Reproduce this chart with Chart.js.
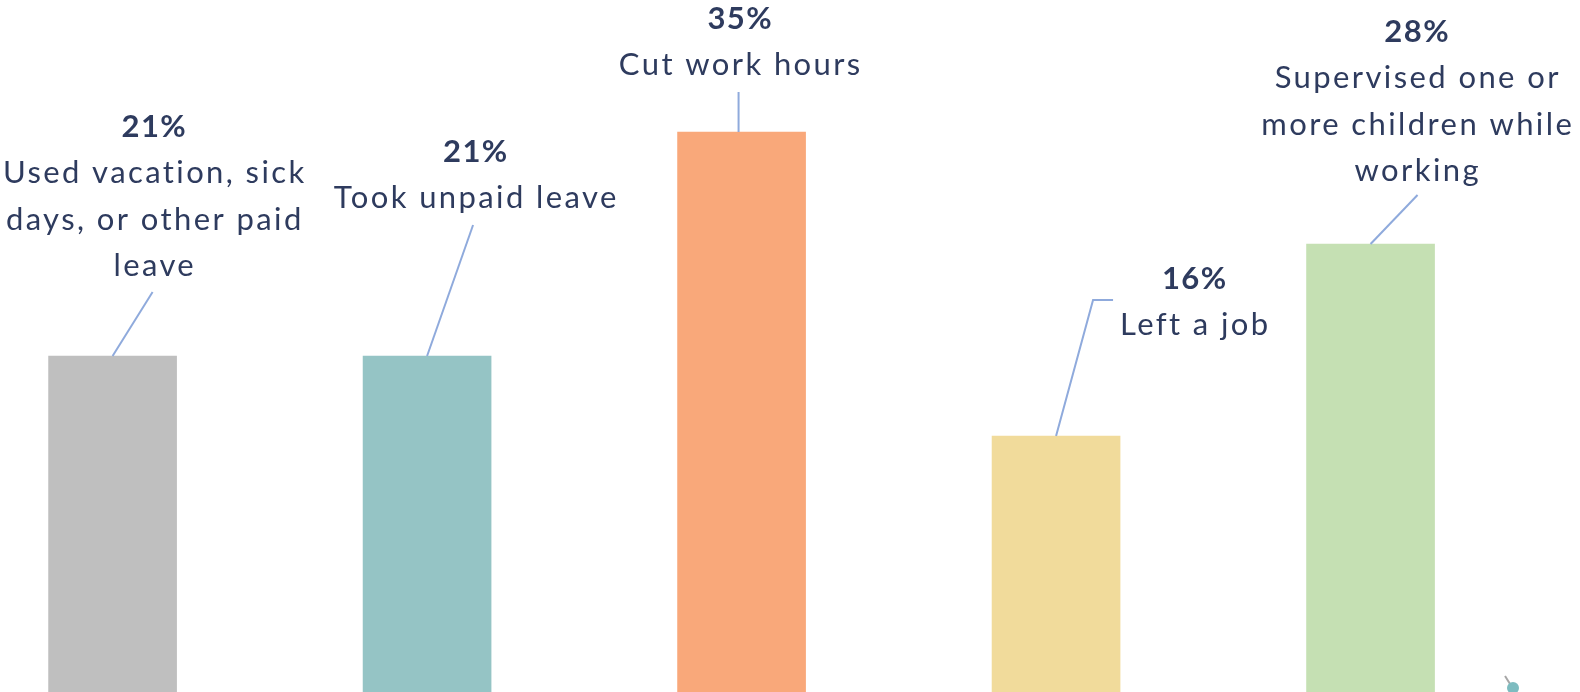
<!DOCTYPE html>
<html>
<head>
<meta charset="utf-8">
<script src="https://cdn.jsdelivr.net/npm/chart.js@4"></script>
<style>
	html, body { margin: 0; padding: 0; background: #ffffff; }
	#wrap { width: 1580px; height: 692px; position: relative; }
</style>
</head>
<body>
<div id="wrap"><canvas id="myChart"></canvas></div>
<script>
// # ===============================
// # = Data
// # ===============================
const categories = [
	['Used vacation, sick', 'days, or other paid', 'leave'],
	['Took unpaid leave'],
	['Cut work hours'],
	['Left a job'],
	['Supervised one or', 'more children while', 'working']
];
const values = [21, 21, 35, 16, 28];
const percentLabels = ['21%', '21%', '35%', '16%', '28%'];

// styles (not data)
const barColors = ['#BFBFBF', '#95C4C5', '#F9A87A', '#F1DB9B', '#C5E0B3'];
const textColor = '#2E3B5E';
const leaderColor = '#8FAADC';

// label placement, offsets from the top centre of each bar
const labelPos = [
	{ dx: 41,  dy: -231, leader: [[0, 0], [40, -64]] },
	{ dx: 48,  dy: -206, leader: [[0, 0], [46, -131]] },
	{ dx: -2,  dy: -115, leader: [[-3, 0], [-3, -40]] },
	{ dx: 138, dy: -159, leader: [[0, 0], [37, -136], [57, -136]] },
	{ dx: 46,  dy: -214, leader: [[0, 0], [47, -49]] }
];

const lineGap = 46.5;
const capHalf = 11.5;

// text with extra letter spacing, centred
function spacedText(ctx, str, cx, y, spacing) {
	if ('letterSpacing' in ctx) {
		ctx.letterSpacing = spacing + 'px';
		ctx.fillText(str, cx + spacing / 2, y);
		ctx.letterSpacing = '0px';
		return;
	}
	var w = ctx.measureText(str).width + spacing * (str.length - 1);
	var x = cx - w / 2;
	ctx.textAlign = 'left';
	for (var i = 0; i < str.length; i++) {
		ctx.fillText(str[i], x, y);
		x += ctx.measureText(str[i]).width + spacing;
	}
	ctx.textAlign = 'center';
}

var labelPlugin = {
	id: 'barLabels',
	afterDatasetsDraw: function(chart) {
		var ctx = chart.ctx;
		var meta = chart.getDatasetMeta(0);
		ctx.save();
		meta.data.forEach(function(bar, i) {
			var p = labelPos[i];
			// leader line
			ctx.strokeStyle = leaderColor;
			ctx.lineWidth = 2;
			ctx.beginPath();
			p.leader.forEach(function(pt, j) {
				if (j === 0) ctx.moveTo(bar.x + pt[0], bar.y + pt[1]);
				else ctx.lineTo(bar.x + pt[0], bar.y + pt[1]);
			});
			ctx.stroke();

			// text
			var cx = bar.x + p.dx;
			var y = bar.y + p.dy;
			ctx.fillStyle = textColor;
			ctx.textAlign = 'center';
			ctx.textBaseline = 'alphabetic';
			ctx.font = 'bold 31px Lato';
			spacedText(ctx, percentLabels[i], cx, y + capHalf, 1.5);
			ctx.font = '31px Lato';
			categories[i].forEach(function(line, k) {
				spacedText(ctx, line, cx, y + capHalf + lineGap * (k + 1), 2.4);
			});
		});

		// small stray marker at the bottom right
		var w = chart.width, h = chart.height;
		ctx.strokeStyle = '#A6A6A6';
		ctx.lineWidth = 2;
		ctx.beginPath();
		ctx.moveTo(w - 75, h - 16);
		ctx.lineTo(w - 68, h - 5);
		ctx.stroke();
		ctx.fillStyle = '#7DBCC0';
		ctx.beginPath();
		ctx.arc(w - 67, h - 4, 6, 0, Math.PI * 2);
		ctx.fill();
		ctx.restore();
	}
};

const ctx = document.getElementById('myChart');

new Chart(ctx, {
	type: 'bar',
	data: {
		datasets: [{
			data: values.map(function(v, i) { return { x: i, y: v }; }),
			backgroundColor: barColors,
			borderWidth: 0,
			barThickness: 128
		}]
	},
	options: {
		responsive: true,
		maintainAspectRatio: false,
		animation: false,
		layout: { padding: 0 },
		plugins: {
			legend: { display: false },
			tooltip: { enabled: false }
		},
		scales: {
			x: {
				type: 'linear',
				display: false,
				offset: false,
				min: -0.358,
				max: 4.666
			},
			y: {
				display: false,
				beginAtZero: true,
				min: 0,
				max: 43.25
			}
		}
	},
	plugins: [labelPlugin]
});
</script>
</body>
</html>
